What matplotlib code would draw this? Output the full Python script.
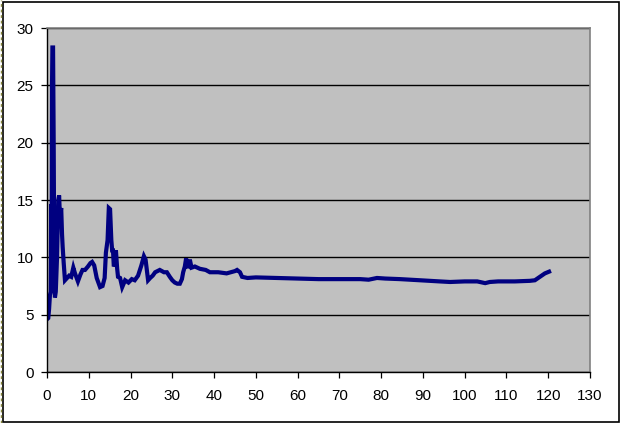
import matplotlib.pyplot as plt
from matplotlib.lines import Line2D

# values
x_vals = [0.0, 0.3, 0.5, 0.7, 0.9, 1.0, 1.1, 1.2, 1.3, 1.45, 1.6, 1.75, 1.9, 2.1,
          2.4, 2.7, 2.9, 3.1, 3.4, 3.6, 3.75, 4.0, 4.3, 4.8, 5.3, 5.8, 6.3, 6.7,
          7.4, 8.0, 8.5, 9.1, 9.8, 10.4, 10.8, 11.3, 11.9, 12.7, 13.3, 13.8, 14.1,
          14.5, 14.8, 15.1, 15.4, 15.6, 15.8, 16.0, 16.3, 16.5, 16.8, 17.0, 17.5,
          18.0, 18.7, 19.5, 20.3, 21.0, 21.8, 22.6, 23.2, 23.6, 24.2, 24.7, 25.3,
          25.9, 27.0, 28.0, 28.7, 29.4, 30.0, 30.6, 31.2, 31.8, 32.3, 32.6, 33.0,
          33.3, 33.6, 33.8, 34.0, 34.2, 34.6, 35.4, 36.6, 38.0, 39.0, 41.0, 43.0,
          45.0, 45.5, 46.2, 46.7, 48.0, 50.0, 55.0, 60.0, 65.0, 70.0, 72.5, 75.0,
          77.0, 79.0, 81.0, 84.5, 89.3, 94.0, 96.5, 100.0, 103.0, 104.9, 106.0,
          108.0, 112.0, 115.6, 116.8, 118.0, 119.2, 120.2]
y_vals = [4.6, 4.7, 5.5, 6.7, 7.0, 14.6, 7.0, 24.9, 28.3, 28.3, 20.0, 8.0, 6.5, 7.0,
          10.0, 15.0, 15.4, 13.5, 14.3, 12.0, 10.9, 9.5, 8.0, 8.2, 8.4, 8.3, 9.1, 8.6,
          7.9, 8.5, 8.9, 8.9, 9.2, 9.5, 9.6, 9.3, 8.2, 7.4, 7.5, 8.2, 10.4,
          11.5, 14.3, 14.2, 11.5, 10.6, 10.6, 9.2, 9.5, 10.6, 9.0, 8.3, 8.2,
          7.4, 8.0, 7.8, 8.1, 8.0, 8.4, 9.3, 10.1, 9.8, 8.0, 8.2, 8.4,
          8.7, 8.9, 8.7, 8.7, 8.3, 8.0, 7.8, 7.7, 7.7, 8.1, 8.7, 9.2,
          9.9, 9.2, 9.2, 9.5, 9.8, 9.1, 9.2, 9.0, 8.9, 8.7, 8.7, 8.6,
          8.8, 8.9, 8.7, 8.3, 8.2, 8.25, 8.2, 8.15, 8.1, 8.1, 8.1, 8.1,
          8.05, 8.2, 8.15, 8.1, 8.0, 7.9, 7.85, 7.9, 7.9, 7.75, 7.85,
          7.9, 7.9, 7.95, 8.0, 8.3, 8.6, 8.75]
x_ticks = list(range(0, 131, 10))
y_ticks = list(range(0, 31, 5))

plt.rcParams['font.family'] = ['Liberation Sans', 'DejaVu Sans']

fig = plt.figure(figsize=(6.22, 4.23), dpi=100)
ax = fig.add_axes([47 / 622, 1 - 372 / 423, 543 / 622, 344 / 423])

ax.set_facecolor('#C0C0C0')
ax.plot(x_vals, y_vals, color='#000080', linewidth=3.0, solid_joinstyle='miter')

ax.set_xlim(0, 130)
ax.set_ylim(0, 30)
ax.set_xticks(x_ticks)
ax.set_yticks(y_ticks)
ax.yaxis.grid(True, color='black', linewidth=1.0)
ax.set_axisbelow(True)

ax.tick_params(axis='both', direction='out', length=4.3, width=0.9,
               labelsize=11, colors='black')
ax.tick_params(axis='x', pad=8)
ax.tick_params(axis='y', pad=5.5)

for side in ('left', 'bottom'):
    ax.spines[side].set_color('black')
    ax.spines[side].set_linewidth(1.0)
for side in ('top', 'right'):
    ax.spines[side].set_color('#808080')
    ax.spines[side].set_linewidth(1.2)

# chart frame around the whole figure
fig.add_artist(plt.Rectangle((2.5 / 622, 1.5 / 423), 616 / 622, 419.5 / 423,
                             transform=fig.transFigure, fill=False,
                             edgecolor='black', linewidth=1.2))
fig.add_artist(Line2D([0.6 / 622, 0.6 / 622], [0, 1], transform=fig.transFigure,
                      color='#8a8a40', linewidth=1.0, linestyle=(0, (2, 2))))

fig.savefig('out.png', dpi=100)
